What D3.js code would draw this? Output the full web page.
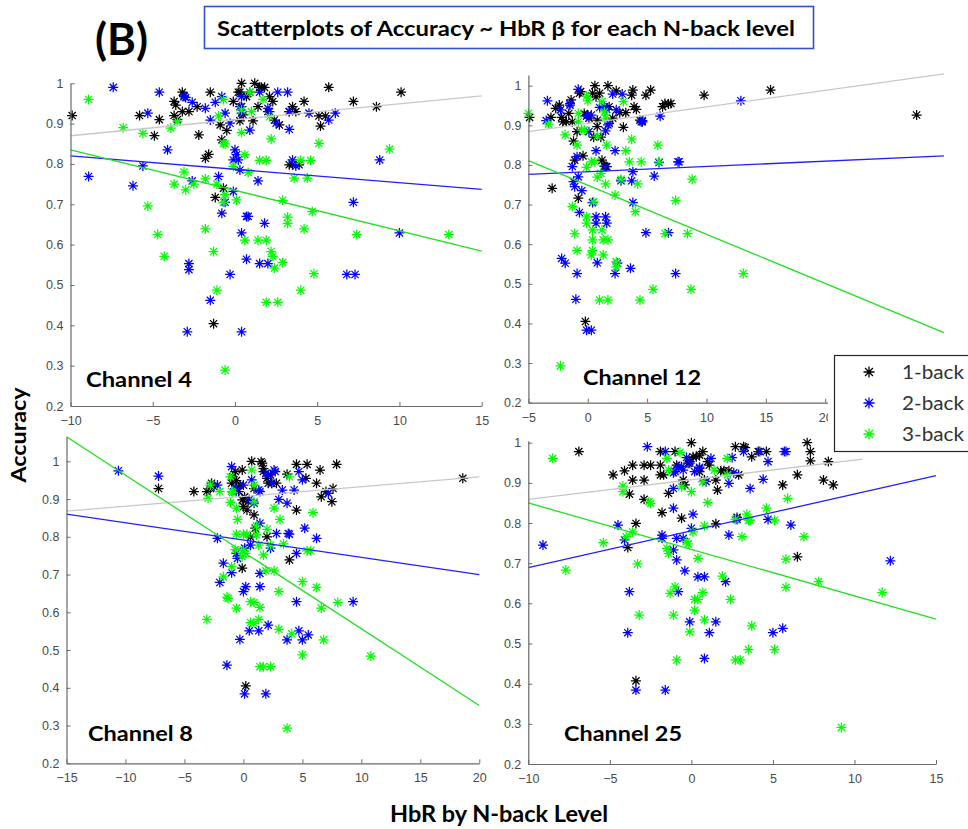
<!DOCTYPE html>
<html><head><meta charset="utf-8">
<script src="https://cdn.jsdelivr.net/npm/d3@7"></script>
<style>body{margin:0;background:#fff}svg{display:block}</style>
</head><body>
<svg id="c" width="968" height="829"></svg>
<script>
// ---------- DATA ----------
const levels = ["1-back", "2-back", "3-back"];
const levelColors = ["#000000", "#0000ff", "#00ff00"];
const fitColors = ["#c8c8c8", "#2020ff", "#20e020"];
const channels = ["Channel 4", "Channel 12", "Channel 8", "Channel 25"];
const xDomains = [[-10, 15], [-5, 30], [-15, 20], [-10, 15]];
const yDomains = [[0.2, 1], [0.2, 1.027], [0.2, 1.065], [0.2, 1.005]];
const xTicks = [[-10, -5, 0, 5, 10, 15], [-5, 0, 5, 10, 15, 20], [-15, -10, -5, 0, 5, 10, 15, 20], [-10, -5, 0, 5, 10, 15]];
const yTicks = [0.2, 0.3, 0.4, 0.5, 0.6, 0.7, 0.8, 0.9, 1];
const titleText = "Scatterplots of Accuracy ~ HbR \u03b2 for each N-back level";
const panelTag = "(B)";
const yLabel = "Accuracy";
const xLabel = "HbR by N-back Level";

// Channel 4
const ch4_1back = [[-9.9,0.92],[-5.8,0.92],[-4.9,0.87],[-4.6,0.91],[-3.7,0.955],[-3.6,0.946],[-3.7,0.92],[-3.5,0.91],[-3.2,0.978],[-3.1,0.969],[-3.2,0.93],[-2.8,0.93],[-2.3,0.942],[-2.2,0.872],[-1.5,0.978],[-1.8,0.814],[-1.6,0.824],[-0.9,0.897],[-0.8,0.86],[-0.5,0.883],[-0.1,0.955],[0.2,0.978],[0.3,0.978],[0.4,1.0],[0.4,0.942],[0.5,0.922],[0.3,0.907],[0.7,0.967],[0.9,0.978],[1.2,1.0],[1.5,0.99],[1.6,0.99],[1.8,0.99],[1.4,0.942],[1.1,0.907],[2.1,0.967],[2.3,0.955],[2.4,0.909],[2.7,0.897],[3.3,0.93],[3.5,0.942],[3.7,0.93],[4.2,0.955],[5.1,0.919],[5.5,0.919],[5.2,0.894],[5.7,0.99],[7.2,0.955],[8.6,0.942],[10.1,0.978],[3.3,0.798],[3.5,0.798],[3.9,0.798],[-0.7,0.74],[-1.2,0.717],[-1.3,0.404],[2.0,0.93]];
const ch4_2back = [[-7.4,0.99],[-8.9,0.769],[-6.2,0.746],[-5.6,0.795],[-5.3,0.926],[-4.6,0.978],[-4.1,0.835],[-3.1,0.967],[-3.0,0.965],[-2.6,0.953],[-2.6,0.758],[-1.8,0.938],[-1.5,0.909],[-1.2,0.953],[-1.0,0.769],[-0.8,0.967],[-0.6,0.926],[-0.3,0.901],[-0.6,0.705],[-0.1,0.732],[-0.8,0.678],[-0.1,0.81],[0.0,0.835],[0.1,0.823],[0.2,0.81],[0.3,0.785],[0.3,0.942],[0.4,0.967],[0.4,0.926],[0.9,0.884],[0.7,0.67],[0.8,0.67],[1.4,0.758],[1.5,0.978],[1.8,0.653],[2.0,0.938],[2.1,0.93],[2.5,0.901],[2.6,0.978],[3.2,0.978],[3.3,0.886],[3.3,0.93],[3.5,0.81],[3.7,0.795],[4.5,0.926],[5.7,0.909],[6.1,0.926],[8.8,0.81],[7.2,0.705],[10.0,0.629],[0.4,0.629],[0.7,0.564],[1.5,0.553],[2.0,0.553],[-2.8,0.553],[-2.8,0.538],[-0.3,0.526],[6.8,0.526],[7.3,0.526],[-1.5,0.462],[-2.9,0.384],[0.4,0.384]];
const ch4_3back = [[-8.9,0.96],[-6.8,0.89],[-5.6,0.876],[-3.9,0.889],[-3.5,0.905],[-5.3,0.696],[-4.7,0.625],[-4.3,0.571],[-3.7,0.75],[-3.1,0.78],[-3.0,0.736],[-2.5,0.75],[-1.8,0.763],[-1.8,0.639],[-1.3,0.583],[-1.1,0.75],[-1.1,0.487],[-1.0,0.919],[-0.7,0.96],[-0.7,0.851],[-0.6,0.85],[-0.6,0.724],[-0.7,0.705],[-0.6,0.289],[-0.1,0.794],[0.1,0.711],[0.4,0.934],[0.4,0.878],[0.6,0.823],[0.8,0.779],[0.9,0.978],[1.0,0.93],[0.6,0.611],[1.4,0.611],[1.9,0.611],[1.5,0.809],[1.9,0.809],[1.7,0.96],[2.1,0.917],[2.2,0.862],[2.2,0.583],[2.3,0.571],[2.4,0.542],[2.9,0.556],[1.9,0.457],[2.6,0.457],[2.9,0.71],[3.2,0.668],[3.2,0.653],[3.6,0.765],[4.0,0.809],[4.2,0.639],[4.4,0.765],[4.6,0.809],[4.7,0.682],[4.8,0.528],[4.0,0.487],[5.1,0.851],[7.4,0.625],[9.4,0.837],[13.0,0.625]];
const ch4_fits = [[[-10,0.870],[15,0.969]], [[-10,0.820],[15,0.737]], [[-10,0.835],[15,0.584]]];

// Channel 12
const ch12_1back = [[-4.9,0.92],[-3.1,0.92],[-3.0,0.741],[-2.7,0.943],[-2.4,0.951],[-2.2,0.92],[-2.1,0.909],[-1.8,0.909],[-1.6,0.93],[-1.4,0.964],[-1.3,0.909],[-1.2,0.86],[-1.1,0.812],[-0.9,0.884],[-0.8,0.716],[-0.7,0.981],[-0.6,0.985],[-0.4,0.823],[-0.2,0.405],[-0.3,0.93],[0.0,0.926],[0.1,0.918],[0.4,0.981],[0.5,0.87],[0.6,1.0],[0.7,0.972],[0.8,0.897],[0.8,0.913],[1.0,0.981],[1.1,0.87],[1.2,0.812],[1.4,0.797],[1.6,0.796],[1.7,1.0],[1.8,0.947],[2.1,0.918],[2.4,0.987],[2.7,0.932],[3.0,0.895],[3.2,0.932],[3.7,0.976],[3.8,0.989],[3.9,0.947],[4.1,0.94],[4.4,0.913],[4.6,0.909],[4.9,0.976],[5.3,0.989],[6.3,0.947],[6.5,0.955],[6.8,0.954],[7.0,0.955],[9.8,0.976],[15.4,0.989],[27.7,0.926]];
const ch12_2back = [[-3.4,0.962],[-3.5,0.912],[-2.3,0.939],[-1.5,0.951],[-1.5,0.955],[-1.3,0.796],[-1.2,0.758],[-1.1,0.745],[-0.9,0.821],[-0.8,0.991],[-0.8,0.77],[-0.7,0.68],[-0.5,0.735],[-0.9,0.526],[-1.0,0.461],[-2.2,0.564],[-1.9,0.552],[-0.1,0.923],[0.1,0.884],[0.3,0.926],[0.4,0.705],[0.7,0.836],[0.7,0.669],[0.7,0.653],[0.8,0.553],[1.0,0.945],[1.4,0.947],[1.5,0.669],[1.6,0.653],[1.5,0.796],[1.5,0.886],[1.7,0.901],[1.8,0.905],[2.1,0.979],[2.3,0.836],[2.3,0.526],[2.5,0.552],[2.9,0.979],[2.8,0.76],[3.7,0.76],[3.6,0.539],[3.8,0.783],[3.8,0.705],[4.5,0.909],[4.9,0.629],[5.6,0.772],[6.1,0.923],[6.0,0.806],[6.8,0.629],[7.4,0.526],[7.6,0.808],[7.7,0.808],[12.9,0.962],[-0.1,0.383],[0.3,0.383],[2.4,0.939],[1.6,0.94],[4.6,0.912]];
const ch12_3back = [[-5.0,0.93],[-3.3,0.903],[-1.9,0.876],[-0.9,0.85],[-0.8,0.93],[-0.8,0.909],[-0.5,0.888],[-0.3,0.888],[-0.1,0.974],[0.0,0.962],[-0.1,0.794],[-0.1,0.669],[-0.1,0.653],[-1.3,0.695],[-1.1,0.627],[-0.9,0.584],[0.3,0.808],[0.4,0.636],[0.4,0.611],[0.3,0.573],[0.4,0.584],[0.5,0.707],[0.6,0.808],[0.8,0.873],[0.8,0.769],[1.1,0.779],[1.2,0.636],[1.3,0.611],[1.3,0.573],[1.5,0.752],[1.6,0.85],[1.7,0.611],[1.5,0.918],[1.2,0.96],[1.4,0.934],[1.0,0.459],[1.7,0.459],[2.3,0.724],[2.4,0.556],[2.4,0.543],[2.8,0.764],[3.0,0.96],[3.2,0.836],[3.5,0.808],[3.7,0.865],[4.0,0.682],[4.2,0.752],[4.5,0.808],[4.4,0.459],[5.5,0.486],[5.9,0.85],[6.0,0.808],[6.5,0.627],[7.4,0.71],[8.4,0.627],[8.8,0.764],[8.7,0.486],[13.1,0.526],[-2.3,0.293]];
const ch12_fits = [[[-5,0.884],[30,1.03]], [[-5,0.776],[30,0.823]], [[-5,0.811],[30,0.377]]];

// Channel 8
const ch8_1back = [[-7.2,0.928],[-4.2,0.92],[-3.1,0.92],[-2.7,0.942],[-2.8,0.928],[-2.5,0.933],[-1.0,0.942],[-0.9,0.959],[-0.7,0.973],[-0.6,0.949],[-0.4,0.92],[-0.3,0.937],[-0.1,0.898],[-0.1,0.977],[0.0,0.88],[0.3,0.871],[0.1,0.906],[0.4,0.893],[0.7,1.0],[0.9,0.928],[0.9,0.858],[1.0,0.823],[0.6,0.799],[-0.1,0.717],[1.5,0.999],[1.6,0.995],[1.7,0.981],[1.7,0.973],[2.0,0.955],[2.1,0.942],[2.3,0.964],[2.4,0.942],[2.8,0.942],[2.0,0.80],[3.7,0.966],[4.5,0.871],[4.5,0.992],[5.4,0.992],[5.3,0.955],[6.2,0.942],[6.5,0.977],[6.6,0.906],[7.0,0.92],[7.5,0.893],[7.6,0.928],[7.9,0.992],[3.9,0.739],[18.6,0.955],[0.2,0.405]];
const ch8_2back = [[-10.6,0.975],[-7.2,0.961],[-2.2,0.937],[-1.0,0.986],[-0.7,0.928],[-0.6,0.92],[0.0,0.937],[0.5,0.899],[0.7,0.951],[0.9,0.889],[1.3,0.924],[1.4,0.92],[1.9,0.968],[2.1,0.964],[2.4,0.942],[2.6,0.977],[2.7,0.973],[3.0,0.899],[3.3,0.924],[3.7,0.889],[4.3,0.924],[4.7,0.973],[5.0,0.951],[-2.2,0.796],[-1.7,0.73],[-1.0,0.705],[-2.0,0.679],[-0.6,0.756],[-0.5,0.743],[0.1,0.77],[0.2,0.668],[0.0,0.655],[1.4,0.703],[1.4,0.668],[2.3,0.77],[2.8,0.809],[3.8,0.809],[3.9,0.807],[4.5,0.628],[4.5,0.756],[5.2,0.823],[6.2,0.796],[7.2,0.915],[9.3,0.628],[-0.3,0.528],[0.5,0.551],[1.3,0.551],[2.1,0.566],[3.7,0.527],[4.7,0.551],[5.0,0.527],[5.5,0.54],[-1.4,0.46],[0.1,0.384],[1.9,0.384],[0.6,0.778],[1.4,0.836]];
const ch8_3back = [[-3.0,0.902],[-2.8,0.937],[-2.0,0.92],[-1.1,0.959],[-1.0,0.92],[-1.1,0.891],[-0.6,0.876],[-0.5,0.846],[-0.9,0.917],[-0.6,0.807],[0.0,0.807],[0.3,0.807],[0.9,0.893],[1.1,0.805],[0.9,0.937],[1.1,0.829],[0.7,0.977],[1.3,0.778],[2.0,0.82],[1.7,0.752],[1.9,0.71],[2.6,0.876],[3.1,0.846],[2.6,0.71],[3.0,0.655],[2.3,0.778],[3.9,0.959],[5.9,0.864],[5.0,0.681],[6.2,0.666],[5.4,0.763],[5.7,0.763],[8.0,0.626],[6.6,0.611],[6.8,0.527],[10.8,0.484],[5.0,0.487],[1.4,0.613],[0.6,0.628],[0.9,0.626],[-1.4,0.64],[-1.3,0.637],[-0.6,0.611],[-1.7,0.694],[-1.0,0.721],[-0.1,0.747],[0.2,0.756],[-3.1,0.581],[0.6,0.573],[1.3,0.581],[0.9,0.571],[1.4,0.456],[1.7,0.456],[2.3,0.456],[3.0,0.555],[4.1,0.543],[3.7,0.293],[0.0,0.765],[-0.7,0.766],[3.4,0.781]];
const ch8_fits = [[[-15,0.868],[20,0.959]], [[-15,0.860],[20,0.700]], [[-15,1.065],[20,0.353]]];

// Channel 25
const ch25_1back = [[-6.9,0.978],[-4.8,0.92],[-4.1,0.93],[-3.6,0.944],[-3.6,0.907],[-3.8,0.872],[-3.9,0.739],[-3.4,0.799],[-3.4,0.407],[-2.9,0.944],[-2.9,0.907],[-2.9,0.859],[-2.5,0.944],[-1.9,0.944],[-1.9,0.92],[-1.9,0.978],[-1.7,0.92],[-1.8,0.826],[-1.4,0.874],[-1.0,0.978],[-0.9,0.944],[-0.6,0.812],[-0.5,0.907],[-0.4,0.895],[-0.2,0.949],[-0.1,0.953],[0.0,1.0],[0.1,0.965],[0.3,0.965],[0.5,0.969],[0.7,0.978],[0.8,0.907],[1.0,0.953],[1.1,0.944],[1.5,0.907],[1.6,0.882],[1.5,0.798],[1.8,0.93],[2.0,0.93],[2.3,0.93],[2.7,0.99],[2.9,0.92],[3.2,0.99],[3.3,0.988],[3.7,0.965],[4.1,0.978],[4.6,0.978],[5.6,0.895],[6.5,0.92],[6.5,0.716],[7.1,1.0],[7.3,0.978],[7.3,0.955],[8.1,0.907],[8.4,0.953],[8.7,0.895],[2.8,0.814],[0.5,0.928]];
const ch25_2back = [[-9.1,0.745],[-4.5,0.795],[-4.1,0.758],[-3.8,0.629],[-3.9,0.527],[-3.4,0.384],[-2.7,0.99],[-1.8,0.77],[-1.8,0.762],[-1.6,0.978],[-1.6,0.384],[-1.1,0.837],[-1.1,0.886],[-1.1,0.733],[-1.0,0.928],[-0.9,0.762],[-0.9,0.708],[-0.8,0.629],[-1.1,0.925],[-0.8,0.94],[-0.6,0.94],[-0.5,0.762],[-0.4,0.681],[-0.3,0.963],[-0.1,0.949],[-0.1,0.554],[0.0,0.787],[0.1,0.822],[0.2,0.928],[0.4,0.666],[0.5,0.936],[0.8,0.666],[0.9,0.903],[1.1,0.527],[0.8,0.463],[1.2,0.961],[1.5,0.554],[2.1,0.654],[2.3,0.899],[2.3,0.77],[2.5,0.963],[2.6,0.925],[2.8,0.809],[3.2,0.978],[3.6,0.886],[4.2,0.978],[4.4,0.909],[4.7,0.953],[4.7,0.809],[5.0,0.527],[5.6,0.538],[5.7,0.978],[5.8,0.978],[6.1,0.795],[12.2,0.706],[0.5,0.939],[-0.5,0.932]];
const ch25_3back = [[-8.5,0.961],[-7.7,0.683],[-5.4,0.751],[-4.2,0.892],[-4.2,0.878],[-4.0,0.766],[-3.6,0.778],[-3.3,0.698],[-3.2,0.571],[-2.6,0.853],[-2.5,0.849],[-1.5,0.961],[-1.4,0.932],[-1.5,0.737],[-1.4,0.724],[-1.3,0.625],[-1.1,0.571],[-1.0,0.641],[-0.9,0.459],[-0.7,0.976],[-0.6,0.89],[-0.3,0.754],[-0.2,0.748],[-0.1,0.529],[0.0,0.878],[0.1,0.778],[0.2,0.61],[0.2,0.583],[0.4,0.61],[0.4,0.712],[0.7,0.627],[0.7,0.903],[0.8,0.793],[0.8,0.559],[1.0,0.851],[1.4,0.932],[1.9,0.668],[2.2,0.961],[2.4,0.61],[2.7,0.809],[2.7,0.459],[3.0,0.459],[3.1,0.766],[3.4,0.822],[3.5,0.807],[3.6,0.807],[3.7,0.544],[3.5,0.485],[4.6,0.837],[5.1,0.485],[5.1,0.807],[5.8,0.71],[5.8,0.64],[5.9,0.861],[6.9,0.766],[7.8,0.654],[9.2,0.291],[11.7,0.627],[2.2,0.92]];
const ch25_fits = [[[-10,0.859],[10.5,0.959]], [[-10,0.689],[15,0.918]], [[-10,0.850],[15,0.561]]];

const panelSeries = [
  [ch4_1back, ch4_2back, ch4_3back],
  [ch12_1back, ch12_2back, ch12_3back],
  [ch8_1back, ch8_2back, ch8_3back],
  [ch25_1back, ch25_2back, ch25_3back]
];
const panelFits = [ch4_fits, ch12_fits, ch8_fits, ch25_fits];

// ---------- LAYOUT ----------
const layout = [
  {x0: 70.5, x1: 481.7, yB: 406, yT: 83.3, lx: 86, ly: 386.5, lw: 106},
  {x0: 528.4, x1: 943.9, yB: 402.7, yT: 75.0, lx: 583, ly: 385, lw: 118},
  {x0: 66.5, x1: 479.3, yB: 763.3, yT: 436.8, lx: 88, ly: 740.5, lw: 105},
  {x0: 528.3, x1: 936, yB: 764, yT: 440.7, lx: 564, ly: 741, lw: 118}
];

const svg = d3.select("#c");
const axisColor = "#6a6a6a";
const tickTextColor = "#4a4a4a";
const fmt = d => d3.format("~g")(d);

function star(r) {
  const d = r * 0.72;
  return `M${-r},0H${r}M0,${-r}V${r}M${-d},${-d}L${d},${d}M${-d},${d}L${d},${-d}`;
}

layout.forEach((L, i) => {
  const xs = d3.scaleLinear().domain(xDomains[i]).range([L.x0, L.x1]);
  const ys = d3.scaleLinear().domain(yDomains[i]).range([L.yB, L.yT]);
  const g = svg.append("g");

  panelSeries[i].forEach((pts, s) => {
    g.append("g").selectAll("path").data(pts).enter().append("path")
      .attr("d", star(5))
      .attr("transform", d => `translate(${xs(d[0])},${ys(d[1])})`)
      .attr("stroke", levelColors[s]).attr("stroke-width", 1.25).attr("fill", "none");
  });
  panelFits[i].forEach((f, s) => {
    g.append("line")
      .attr("x1", xs(f[0][0])).attr("y1", ys(f[0][1]))
      .attr("x2", xs(f[1][0])).attr("y2", ys(f[1][1]))
      .attr("stroke", fitColors[s]).attr("stroke-width", 1.3);
  });

  const ax = d3.axisBottom(xs).tickValues(xTicks[i]).tickSizeInner(-4).tickSizeOuter(0).tickPadding(10).tickFormat(fmt);
  const ay = d3.axisLeft(ys).tickValues(yTicks).tickSizeInner(-4).tickSizeOuter(0).tickPadding(7).tickFormat(fmt);
  const gx = g.append("g").attr("transform", `translate(0,${L.yB})`).call(ax);
  const gy = g.append("g").attr("transform", `translate(${L.x0},0)`).call(ay);
  [gx, gy].forEach(a => {
    a.select(".domain").attr("stroke", axisColor).attr("stroke-width", 1.2);
    a.selectAll(".tick line").attr("stroke", axisColor);
    a.selectAll(".tick text").attr("fill", tickTextColor)
      .attr("font-family", "Liberation Sans, Arial, sans-serif").attr("font-size", 12.5);
  });

  svg.append("text").attr("x", L.lx).attr("y", L.ly).text(channels[i])
    .attr("font-family", "Lato, sans-serif").attr("font-weight", 700).attr("font-size", 21.5)
    .attr("fill", "#000").attr("textLength", L.lw).attr("lengthAdjust", "spacingAndGlyphs");
});

// legend
const lg = svg.append("g");
lg.append("rect").attr("x", 828).attr("y", 350).attr("width", 140).attr("height", 106).attr("fill", "#fff");
lg.append("rect").attr("x", 834.5).attr("y", 355.5).attr("width", 140).attr("height", 96)
  .attr("fill", "#fff").attr("stroke", "#262626").attr("stroke-width", 1.2);
const legRowY = [372, 403, 434];
levels.forEach((lv, k) => {
  lg.append("path").attr("d", star(5.5)).attr("transform", `translate(869,${legRowY[k]})`)
    .attr("stroke", levelColors[k]).attr("stroke-width", 1.3).attr("fill", "none");
  lg.append("text").attr("x", 902).attr("y", legRowY[k] + 6.5).text(lv)
    .attr("font-family", "Lato, sans-serif").attr("font-size", 19.5).attr("fill", "#333")
    .attr("textLength", 62).attr("lengthAdjust", "spacingAndGlyphs");
});

// title
svg.append("rect").attr("x", 204.5).attr("y", 6.5).attr("width", 609).attr("height", 42)
  .attr("fill", "#fff").attr("stroke", "#2f52c9").attr("stroke-width", 1.6);
svg.append("text").attr("x", 217).attr("y", 35.5).text(titleText)
  .attr("font-family", "Lato, sans-serif").attr("font-weight", 700).attr("font-size", 21)
  .attr("fill", "#000").attr("textLength", 578).attr("lengthAdjust", "spacingAndGlyphs");
svg.append("text").attr("x", 95).attr("y", 55).text(panelTag)
  .attr("font-family", "Lato, sans-serif").attr("font-weight", 700).attr("font-size", 44)
  .attr("fill", "#000").attr("textLength", 53).attr("lengthAdjust", "spacingAndGlyphs");

// axis labels
svg.append("text").attr("transform", "translate(26,435) rotate(-90)").attr("text-anchor", "middle")
  .text(yLabel).attr("font-family", "Lato, sans-serif").attr("font-weight", 700).attr("font-size", 20)
  .attr("fill", "#000").attr("textLength", 95).attr("lengthAdjust", "spacingAndGlyphs");
svg.append("text").attr("x", 390).attr("y", 821.5).text(xLabel)
  .attr("font-family", "Lato, sans-serif").attr("font-weight", 700).attr("font-size", 22)
  .attr("fill", "#000").attr("textLength", 218).attr("lengthAdjust", "spacingAndGlyphs");
</script>
</body></html>
